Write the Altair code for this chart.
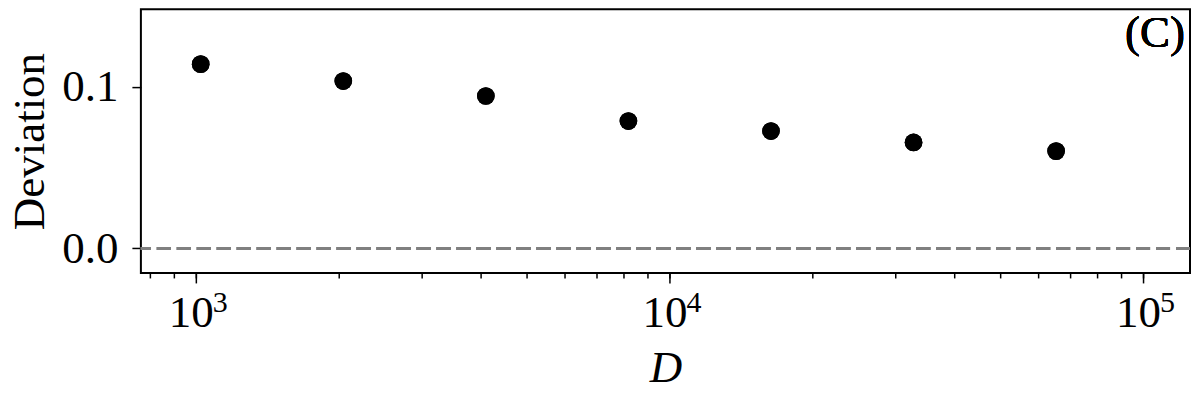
import altair as alt
import pandas as pd

# ---- data ----
D_values = [1024, 2048, 4096, 8192, 16384, 32768, 65536]
deviation = [0.114, 0.1035, 0.0943, 0.0788, 0.0726, 0.0656, 0.0602]

x_minor_ticks = [800, 900,
                 2000, 3000, 4000, 5000, 6000, 7000, 8000, 9000,
                 20000, 30000, 40000, 50000, 60000, 70000, 80000, 90000]
major_ticks = [1000, 10000, 100000]
major_base = "10"
major_exponents = ["3", "4", "5"]
y_tick_values = [0.0, 0.1]

x_domain = [765.6, 125650]
y_domain = [-0.01514, 0.1480]

panel_label = "(C)"
FONT = "Liberation Serif, Times New Roman, Times, serif"
FS = 45
FS_SUP = 30

df = pd.DataFrame({"D": D_values, "Deviation": deviation})

exp_expr = " : ".join(
    f"datum.value == {v} ? '{t}'" for v, t in zip(major_ticks, major_exponents)
) + " : ''"

W, H = 1050, 264

y_enc = alt.Y(
    "Deviation:Q",
    scale=alt.Scale(domain=y_domain, nice=False, zero=False),
    axis=alt.Axis(
        values=y_tick_values,
        format=".1f",
        tickSize=9,
        tickColor="black",
        tickWidth=1.5,
        labelFont=FONT,
        labelFontSize=FS,
        labelColor="black",
        labelPadding=14,
        labelBaseline="middle",
        domain=False,
        grid=False,
        title="Deviation",
        titleFont=FONT,
        titleFontSize=FS,
        titleFontWeight="normal",
        titleColor="black",
        titleAngle=-90,
        titleX=-97,
        titleY=132,
        titleAlign="center",
        titleBaseline="alphabetic",
    ),
)

x_scale = alt.Scale(type="log", domain=x_domain, nice=False)

# main axis: major ticks with "10" base labels and the title
x_main = alt.X(
    "D:Q",
    scale=x_scale,
    axis=alt.Axis(
        orient="bottom",
        values=major_ticks,
        labelExpr=f"'{major_base}'",
        tickSize=10,
        tickColor="black",
        tickWidth=1.5,
        labelFont=FONT,
        labelFontSize=FS,
        labelColor="black",
        labelPadding=8,
        labelBaseline="top",
        labelAlign="center",
        labelOffset=-5,
        labelOverlap=False,
        labelFlush=False,
        labelBound=False,
        domain=False,
        grid=False,
        title="D",
        titleFont=FONT,
        titleFontSize=FS,
        titleFontStyle="italic",
        titleFontWeight="normal",
        titleColor="black",
        titleX=W / 2,
        titleY=109,
        titleAlign="center",
        titleBaseline="alphabetic",
    ),
)

# secondary axis: minor ticks and exponent labels (superscripts)
x_minor = alt.X(
    "D:Q",
    scale=x_scale,
    axis=alt.Axis(
        orient="bottom",
        offset=0,
        values=x_minor_ticks + major_ticks,
        labelExpr=exp_expr,
        tickSize=5,
        tickColor="black",
        tickWidth=1.5,
        labelFont=FONT,
        labelFontSize=FS_SUP,
        labelColor="black",
        labelPadding=10,
        labelBaseline="top",
        labelAlign="center",
        labelOffset=24,
        labelOverlap=False,
        labelFlush=False,
        labelBound=False,
        domain=False,
        grid=False,
        title=None,
    ),
)

zero_rule = alt.Chart(df).mark_rule(
    color="#808080", strokeDash=[14, 6], strokeWidth=3
).encode(y=alt.datum(0))

points = alt.Chart(df).mark_circle(size=314, color="black", opacity=1).encode(
    x=x_main, y=y_enc
)

points_minor_axis = alt.Chart(df).mark_circle(size=314, color="black", opacity=1).encode(
    x=x_minor, y=y_enc
)

label = alt.Chart(df).mark_text(
    text=panel_label, align="right", baseline="alphabetic",
    font=FONT, fontSize=FS, color="black"
).encode(x=alt.value(W - 5), y=alt.value(38))

chart = alt.layer(zero_rule, points, points_minor_axis, label).resolve_axis(
    x="independent"
).properties(
    width=W,
    height=H,
    background="white",
    autosize=alt.AutoSizeParams(type="none"),
    padding={"left": 133, "top": 1, "right": 2, "bottom": 118},
).configure_view(
    stroke="black", strokeWidth=2
)

chart.save("out.html", embed_options={"renderer": "svg", "actions": False})
